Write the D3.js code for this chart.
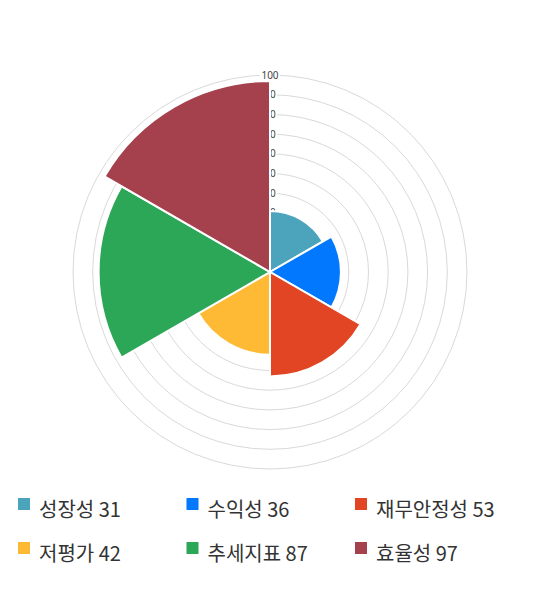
<!DOCTYPE html>
<meta charset="utf-8">
<head>
<style>
body { margin: 0; background: #fff; }
.grid circle { fill: none; stroke: #d9d9d9; stroke-width: 1; }
.tick text { font: 10px "Noto Sans", sans-serif; fill: #444; }
.legend text { font: 20px "Noto Sans CJK KR", sans-serif; fill: #333; }
</style>
</head>
<body>
<svg width="540" height="590"></svg>
<script src="https://d3js.org/d3.v7.min.js"></script>
<script>

var categories = ["성장성", "수익성", "재무안정성", "저평가", "추세지표", "효율성"];
var values = [31, 36, 53, 42, 87, 97];
var colors = ["#4ba3bc", "#0278ff", "#e14523", "#feba34", "#2ca657", "#a5404d"];
var ticks = [10, 20, 30, 40, 50, 60, 70, 80, 90, 100];

var svg = d3.select("svg"),
    cx = 270, cy = 272,
    g = svg.append("g").attr("transform", "translate(" + cx + "," + cy + ")");

var r = d3.scaleLinear().domain([0, 100]).range([0, 197]);
var angle = d3.scaleBand().domain(categories).range([0, 2 * Math.PI]).padding(0);

// rings
g.append("g").attr("class", "grid")
  .selectAll("circle")
  .data(ticks)
  .enter().append("circle")
    .attr("r", function(d) { return r(d); });

// tick labels with white backdrop
var tick = g.append("g").attr("class", "tick")
  .selectAll("g")
  .data(ticks)
  .enter().append("g")
    .attr("transform", function(d) { return "translate(0," + (-r(d)) + ")"; });

tick.append("rect")
    .attr("x", function(d) { return d >= 100 ? -10 : -7; })
    .attr("y", -6)
    .attr("width", function(d) { return d >= 100 ? 20 : 14; })
    .attr("height", 12)
    .attr("fill", "#fff");

tick.append("text")
    .attr("text-anchor", "middle")
    .attr("dy", "0.35em")
    .text(function(d) { return d; });

// segments
var arc = d3.arc()
    .innerRadius(0)
    .outerRadius(function(d) { return r(d.value); })
    .startAngle(function(d) { return angle(d.name); })
    .endAngle(function(d) { return angle(d.name) + angle.bandwidth(); });

var rows = categories.map(function(c, i) { return {name: c, value: values[i], color: colors[i]}; });

g.selectAll(".seg")
  .data(rows)
  .enter().append("path")
    .attr("class", "seg")
    .attr("d", arc)
    .attr("fill", function(d) { return d.color; })
    .attr("stroke", "#fff")
    .attr("stroke-width", 2);

// legend
var legend = svg.append("g").attr("class", "legend")
  .selectAll("g")
  .data(rows)
  .enter().append("g")
    .attr("transform", function(d, i) { return "translate(" + (18 + (i % 3) * 168.5) + "," + (498 + Math.floor(i / 3) * 44) + ")"; });

legend.append("rect")
    .attr("width", 12)
    .attr("height", 12)
    .attr("fill", function(d) { return d.color; });

legend.append("text")
    .attr("x", 21)
    .attr("y", 18.5)
    .text(function(d) { return d.name + " " + d.value; });

</script>
</body>
</html>
